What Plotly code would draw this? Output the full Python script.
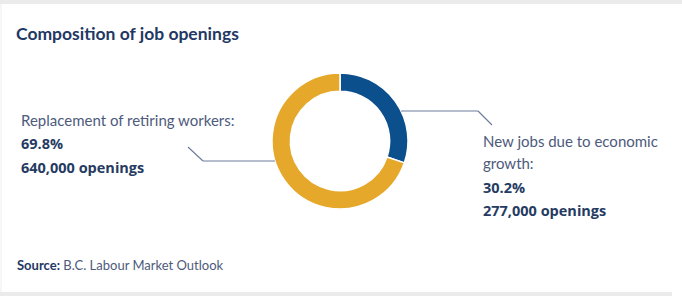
import plotly.graph_objects as go
import math

# ---- data ----
categories = ["New jobs due to economic growth", "Replacement of retiring workers"]
openings = [277000, 640000]
shares = ["30.2%", "69.8%"]
colors = ["#0b4f8c", "#e5a82b"]

W, H = 682, 296
cx, cy, R = 340, 141, 68

def px(x):
    return x / W

def py(y):
    return 1 - y / H

fig = go.Figure()
fig.add_trace(go.Pie(
    labels=categories, values=openings, hole=0.73, sort=False,
    direction="clockwise", rotation=0,
    marker=dict(colors=colors, line=dict(color="white", width=1.5)),
    textinfo="none", hoverinfo="label+value+percent", showlegend=False,
    domain=dict(x=[px(cx - R), px(cx + R)], y=[py(cy + R), py(cy - R)]),
))

navy = "#1f3864"
label_col = "#4d5a7c"
bold_col = "#263b62"
line_col = "#6f7e9c"

shapes = [
    dict(type="rect", xref="paper", yref="paper", x0=0, x1=1, y0=py(4), y1=1,
         fillcolor="#ebebeb", line=dict(width=0), layer="below"),
    dict(type="rect", xref="paper", yref="paper", x0=0, x1=px(672), y0=0, y1=py(292),
         fillcolor="#ebebeb", line=dict(width=0), layer="below"),
    dict(type="line", xref="paper", yref="paper", x0=px(1), x1=px(1), y0=py(292), y1=py(4),
         line=dict(color="#eeeeee", width=1)),
]

yr = 111
xr = cx + math.sqrt(R**2 - (yr - cy)**2)
yl = 161
xl = cx - math.sqrt(R**2 - (yl - cy)**2)
pts_r = [(xr, yr), (478, yr), (492, 125)]
pts_l = [(xl, yl), (203, yl), (188, 147)]
for pts in (pts_r, pts_l):
    for (x0, y0), (x1, y1) in zip(pts[:-1], pts[1:]):
        shapes.append(dict(type="line", xref="paper", yref="paper",
                           x0=px(x0), y0=py(y0), x1=px(x1), y1=py(y1),
                           line=dict(color=line_col, width=1.2)))

reg = dict(family="Lato, sans-serif", size=15, color=label_col)
bold = dict(family="Open Sans, sans-serif", size=14.5, color=bold_col)

def ann(text, x, y, font):
    return dict(text=text, x=px(x), y=py(y), xref="paper", yref="paper",
                xanchor="left", yanchor="middle", showarrow=False, font=font)

annotations = [
    ann("<b>Composition of job openings</b>", 14, 33,
        dict(family="Lato, sans-serif", size=17.5, color=navy)),
    ann("Replacement of retiring workers:", 19, 120, reg),
    ann("<b>" + shares[1] + "</b>", 19, 143, bold),
    ann("<b>" + f"{openings[1]:,}" + " openings</b>", 19, 167, bold),
    ann("New jobs due to economic", 481, 141, reg),
    ann("growth:", 481, 163, reg),
    ann("<b>" + shares[0] + "</b>", 481, 187, bold),
    ann("<b>" + f"{openings[0]:,}" + " openings</b>", 481, 210, bold),
    ann("<b>Source:</b> <span style='color:#4d5a7c'>B.C. Labour Market Outlook</span>", 15, 265,
        dict(family="Lato, sans-serif", size=13, color=navy)),
]

fig.update_layout(
    width=W, height=H, margin=dict(l=0, r=0, t=0, b=0),
    paper_bgcolor="white", plot_bgcolor="white",
    shapes=shapes, annotations=annotations,
)

fig.write_html("out.html")
